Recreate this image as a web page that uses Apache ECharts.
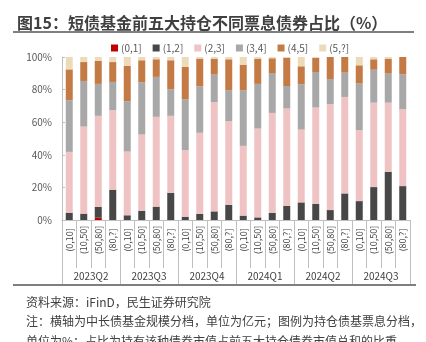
<!DOCTYPE html>
<html><head><meta charset="utf-8">
<script src="https://cdn.jsdelivr.net/npm/echarts@6/dist/echarts.min.js"></script>
<style>html,body{margin:0;padding:0;background:#fff}#c{width:426px;height:342px}</style>
</head><body><div id="c"></div>
<script>
const quarters = ['2023Q2','2023Q3','2023Q4','2024Q1','2024Q2','2024Q3'];
const sizeBins = ['(0,10]','(10,50]','(50,80]','(80,?]'];
const legendNames = ['(0,1]','(1,2]','(2,3]','(3,4]','(4,5]','(5,?]'];
const s01 = [0,0,1.4,0, 0,0,0,0, 0,0,0,0, 0,0,0,0, 0,0,0,0, 0,0,0,0];
const s12 = [4.5,3.9,6.6,18.6, 2.9,5.7,8.2,16.7, 2.0,3.7,5.3,9.2, 2.7,1.6,4.3,8.6, 10.8,9.8,6.1,16.3, 11.6,20.2,29.6,20.8];
const s23 = [37.3,53.4,55.9,48.7, 39.1,46.7,55.1,47.2, 40.9,49.8,67.1,51.4, 42.8,54.5,61.4,59.8, 44.7,59.2,64.9,59.2, 43.5,51.8,42.4,47.2];
const s34 = [31.7,28.0,19.6,17.4, 30.9,32.1,24.5,16.3, 31.2,28.5,16.8,19.0, 34.1,27.4,24.5,13.8, 27.8,21.8,15.5,14.9, 28.6,20.2,17.8,21.4];
const s45 = [18.9,11.6,14.1,12.2, 21.6,13.5,10.8,17.8, 19.8,17.0,9.8,19.0, 15.7,15.5,9.0,17.4, 11.0,8.6,13.5,9.6, 11.2,6.4,9.2,10.6];
const s5p = [7.6,3.1,2.4,3.1, 5.5,2.0,1.4,2.0, 6.1,1.0,1.0,1.4, 4.7,1.0,0.8,0.4, 5.7,0.6,0.0,0.0, 5.1,1.4,1.0,0.0];
const yTicks = [0,20,40,60,80,100];

const colors = ['#C00000','#474747','#EFC3C3','#A8A8A8','#C47A44','#ECDBB8'];
const seriesData = [s01,s12,s23,s34,s45,s5p];
const cats = [];
quarters.forEach(q => sizeBins.forEach(b => cats.push(b)));

const font = '"Noto Sans CJK SC", "Noto Sans", sans-serif';
const chart = echarts.init(document.getElementById('c'), null, {renderer:'canvas'});
chart.setOption({
  animation:false,
  textStyle:{fontFamily:font},
  color: colors,
  title:[
    {text:'图15：短债基金前五大持仓不同票息债券占比（%）', left:12, top:10,
     textStyle:{fontSize:16, fontWeight:'bold', color:'#404040', fontFamily:font}},
    {text:'资料来源：iFinD，民生证券研究院', left:21, top:291,
     textStyle:{fontSize:12, fontWeight:'normal', color:'#404040', fontFamily:font}},
    {text:'注：横轴为中长债基金规模分档，单位为亿元；图例为持仓债基票息分档，', left:21, top:310,
     textStyle:{fontSize:12, fontWeight:'normal', color:'#404040', fontFamily:font}},
    {text:'单位为%；占比为持有该种债券市值占前五大持仓债券市值总和的比重。', left:21, top:330,
     textStyle:{fontSize:12, fontWeight:'normal', color:'#404040', fontFamily:font}}
  ],
  graphic:[
    {type:'line', shape:{x1:13,y1:32,x2:414,y2:32}, style:{stroke:'#555',lineWidth:1.5}},
    {type:'line', shape:{x1:13,y1:285,x2:416,y2:285}, style:{stroke:'#555',lineWidth:1.5}}
  ],
  legend:{
    data: legendNames, left:106, top:38, itemWidth:7, itemHeight:7, itemGap:11,
    icon:'rect', textStyle:{fontSize:10, color:'#595959', padding:[0,0,0,-2]}
  },
  grid:{left:62, right:16, top:57, bottom:122, containLabel:false},
  xAxis:[
    {type:'category', data:cats, position:'bottom',
     axisLine:{show:true, lineStyle:{color:'#BFBFBF'}},
     axisTick:{show:true, interval:0, length:48, lineStyle:{color:'#BFBFBF'}},
     axisLabel:{interval:0, rotate:90, align:'center', verticalAlign:'middle', margin:20, fontSize:9, color:'#404040'}},
    {type:'category', data:quarters, position:'bottom',
     axisLine:{show:false},
     axisTick:{show:true, interval:0, length:64, lineStyle:{color:'#BFBFBF'}},
     axisLabel:{interval:0, margin:51, fontSize:10, color:'#404040'}}
  ],
  yAxis:{type:'value', min:0, max:100, interval:20,
    axisLine:{show:true, lineStyle:{color:'#BFBFBF'}},
    axisTick:{show:true, inside:true, length:3, lineStyle:{color:'#BFBFBF'}},
    splitLine:{show:false},
    axisLabel:{formatter:v => yTicks.includes(v) ? v + '%' : '', fontSize:10, color:'#595959', margin:10}},
  series: legendNames.map((n,i)=>({
    name:n, type:'bar', stack:'total', barWidth:7, xAxisIndex:0,
    data: seriesData[i], itemStyle:{color:colors[i]}
  }))
});
</script></body></html>
